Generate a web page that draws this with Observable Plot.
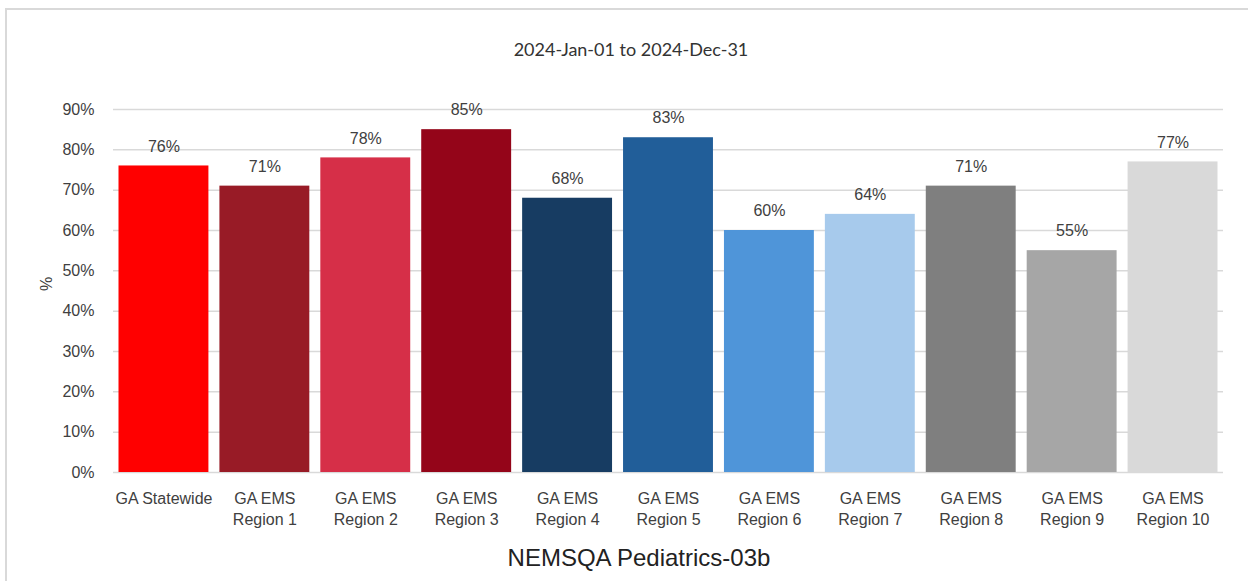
<!DOCTYPE html>
<html><head><meta charset="utf-8">
<script src="https://cdn.jsdelivr.net/npm/d3@7"></script>
<script src="https://cdn.jsdelivr.net/npm/@observablehq/plot@0.6"></script>
<style>
body{margin:0;background:#fff;}
#wrap{position:relative;width:1248px;height:581px;overflow:hidden;background:#fff;}
#frame{position:absolute;left:5px;top:8px;width:1243px;height:573px;border-left:2px solid #d9d9d9;border-top:2px solid #d9d9d9;box-sizing:border-box;}
#title{position:absolute;left:0;top:37px;width:1262px;text-align:center;font-family:Lato,sans-serif;font-size:18px;line-height:24px;color:#333;}
#chart{position:absolute;left:0;top:70px;}
#caption{position:absolute;left:0;top:543px;width:1278px;text-align:center;font-family:"Liberation Sans",Arial,sans-serif;font-size:24px;line-height:30px;color:#222;}
</style></head>
<body>
<div id="wrap">
  <div id="frame"></div>
  <div id="title">2024-Jan-01 to 2024-Dec-31</div>
  <div id="chart"></div>
  <div id="caption">NEMSQA Pediatrics-03b</div>
</div>
<script>
const categories = ["GA Statewide","GA EMS\nRegion 1","GA EMS\nRegion 2","GA EMS\nRegion 3","GA EMS\nRegion 4","GA EMS\nRegion 5","GA EMS\nRegion 6","GA EMS\nRegion 7","GA EMS\nRegion 8","GA EMS\nRegion 9","GA EMS\nRegion 10"];
const values = [76,71,78,85,68,83,60,64,71,55,77];
const colors = ["#FF0000","#981B26","#D62F48","#940519","#173C62","#215E99","#4F95D9","#A7CAEC","#7F7F7F","#A6A6A6","#D9D9D9"];
const yTicks = [0,10,20,30,40,50,60,70,80,90];
const yLabel = "%";

const data = categories.map((name, i) => ({name, value: values[i]}));

const chart = Plot.plot({
  width: 1248,
  height: 465,
  marginLeft: 113,
  marginRight: 25,
  marginTop: 39,
  marginBottom: 63,
  style: {fontFamily: "'Liberation Sans', Arial, sans-serif", fontSize: "16px", background: "transparent"},
  x: {domain: categories, padding: 0, round: false, axis: null},
  y: {domain: [0, 90], axis: null},
  color: {domain: categories, range: colors},
  marks: [
    Plot.gridY(yTicks, {stroke: "#d9d9d9", strokeOpacity: 1, strokeWidth: 1.5}),
    Plot.barY(data, {x: "name", y: "value", fill: "name", insetLeft: 5.5, insetRight: 5.5}),
    Plot.text(data, {x: "name", y: "value", text: d => d.value + "%", dy: -19.5, fontSize: 16, fill: "#404040"}),
    Plot.axisY(yTicks, {tickSize: 0, tickPadding: 19, tickFormat: d => d + "%", fontSize: 16, color: "#404040", label: null}),
    Plot.axisX({tickSize: 0, tickPadding: 16, lineHeight: 1.34, fontSize: 16, color: "#404040", label: null}),
    Plot.text([yLabel], {frameAnchor: "left", dx: -67, rotate: -90, text: d => d, fontSize: 16, fill: "#404040"})
  ]
});
document.getElementById("chart").appendChild(chart);
</script>
</body></html>
